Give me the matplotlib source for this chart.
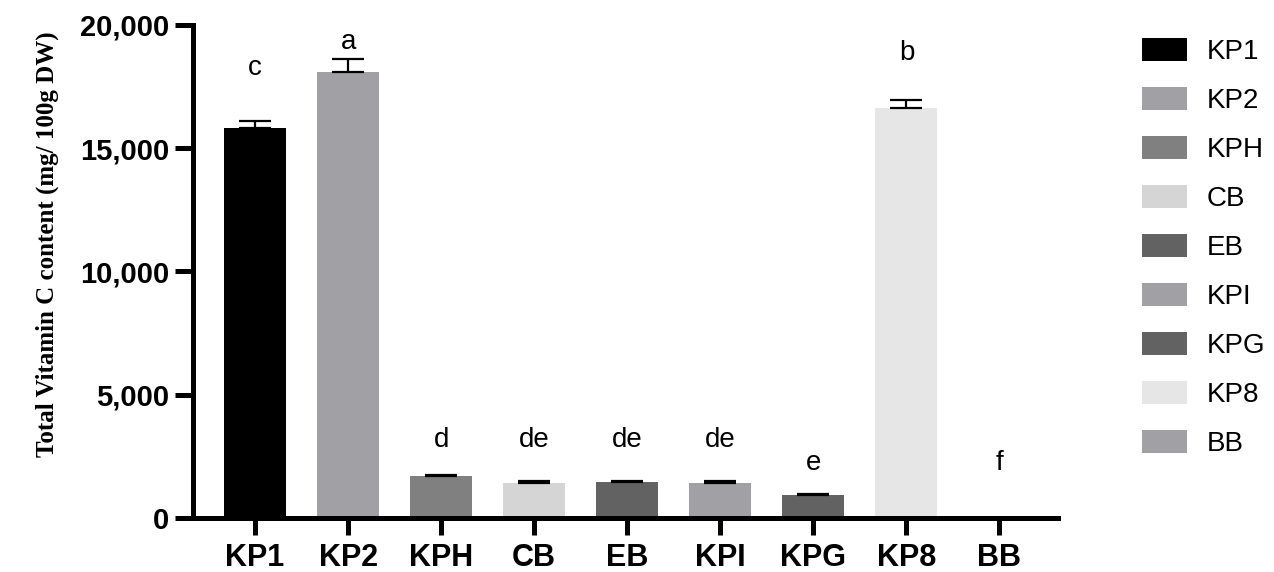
import matplotlib
matplotlib.use("Agg")
import matplotlib.pyplot as plt
from matplotlib.patches import Patch

categories = ["KP1", "KP2", "KPH", "CB", "EB", "KPI", "KPG", "KP8", "BB"]
values = [15820, 18110, 1710, 1420, 1460, 1410, 940, 16630, 20]
errors = [280, 520, 50, 100, 40, 110, 50, 330, 0]
letters = ["c", "a", "d", "de", "de", "de", "e", "b", "f"]
letter_y = [18250, 19300, 3150, 3150, 3150, 3150, 2250, 18850, 2250]
colors = ["#000000", "#a1a0a5", "#808080", "#d5d5d5", "#626262",
          "#a1a0a5", "#626262", "#e6e6e6", "#a1a0a5"]
yticks = [0, 5000, 10000, 15000, 20000]
ytick_labels = ["0", "5,000", "10,000", "15,000", "20,000"]

fig = plt.figure(figsize=(12.74, 5.72), dpi=100)
ax = fig.add_axes([0.1515, 0.0944, 0.679, 0.8619])

x = list(range(len(categories)))
ax.bar(x, values, width=0.667, color=colors, zorder=2)
ax.errorbar(x, values, yerr=[[0] * len(errors), errors], fmt="none",
            ecolor="black", elinewidth=1.6, capsize=11.5, capthick=1.6, zorder=3)

for xi, lt, ly in zip(x, letters, letter_y):
    ax.text(xi, ly, lt, ha="center", va="center", fontsize=20,
            family="Liberation Sans")

ax.set_xlim(-0.667, 8.63)
ax.set_ylim(0, 20000)
ax.set_yticks(yticks)
ax.set_yticklabels(ytick_labels)
ax.set_xticks(x)
ax.set_xticklabels(categories)

for lab in ax.get_yticklabels():
    lab.set_family("Liberation Sans")
    lab.set_fontweight("bold")
    lab.set_fontsize(21)
for lab in ax.get_xticklabels():
    lab.set_family("Liberation Sans")
    lab.set_fontweight("bold")
    lab.set_fontsize(22)

ax.spines["top"].set_visible(False)
ax.spines["right"].set_visible(False)
ax.spines["left"].set_linewidth(3.6)
ax.spines["bottom"].set_linewidth(3.6)
ax.tick_params(axis="y", direction="out", length=13, width=3.6, pad=4)
ax.tick_params(axis="x", direction="out", length=12, width=3.6, pad=6)

ax.set_ylabel("Total Vitamin C content (mg/ 100g DW)", family="Liberation Serif",
              fontweight="bold", fontsize=18, va="center")
ax.yaxis.set_label_coords(-0.168, 0.555)

handles = [Patch(facecolor=c, edgecolor="none", label=l) for c, l in zip(colors, categories)]
leg = fig.legend(handles=handles, loc="upper left", bbox_to_anchor=(0.8765, 0.978),
                 frameon=False, prop={"family": "Liberation Sans", "size": 20},
                 handlelength=1.65, handleheight=0.9, labelspacing=0.79,
                 handletextpad=0.7)

fig.savefig("out.png", dpi=100)
